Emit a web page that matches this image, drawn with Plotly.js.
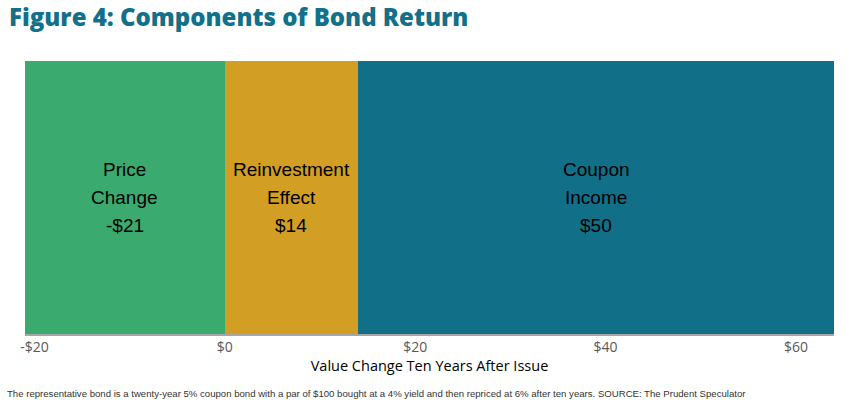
<!DOCTYPE html>
<html>
<head>
<meta charset="utf-8">
<script src="https://cdn.plot.ly/plotly-3.0.1.min.js"></script>
<style>html,body{margin:0;padding:0;background:#fff;}#chart{width:852px;height:417px;}</style>
</head>
<body>
<div id="chart"></div>
<script>
const components = ["Price Change", "Reinvestment Effect", "Coupon Income"];
const labelLines = [["Price", "Change", "-$21"], ["Reinvestment", "Effect", "$14"], ["Coupon", "Income", "$50"]];
const values = [-21, 14, 50];
const colors = ["#3BAA6F", "#D29E23", "#116F88"];
const tickValues = [-20, 0, 20, 40, 60];
const tickLabels = ["-$20", "$0", "$20", "$40", "$60"];

const category = "Bond";
const traces = components.map((name, i) => ({
  type: "bar",
  orientation: "h",
  name: name,
  x: [values[i]],
  y: [category],
  marker: {color: colors[i], line: {width: 0}},
  hoverinfo: "skip"
}));

// label centres derived from stacked data
const annotations = [];
let posBase = 0, negBase = 0;
values.forEach((v, i) => {
  let start, end;
  if (v >= 0) { start = posBase; end = posBase + v; posBase = end; }
  else { start = negBase + v; end = negBase; negBase = start; }
  const mid = (start + end) / 2;
  labelLines[i].forEach((line, j) => {
    annotations.push({
      x: mid, y: category, xref: "x", yref: "y",
      text: line, showarrow: false,
      yshift: (1 - j) * 28,
      font: {family: "Liberation Sans, Arial, sans-serif", size: 19, color: "#000"}
    });
  });
});

annotations.push({
  xref: "paper", yref: "paper", x: 0, y: 1, xanchor: "left", yanchor: "bottom",
  xshift: -18, yshift: 26,
  text: "Figure 4: Components of Bond Return", showarrow: false,
  font: {family: "Open Sans, sans-serif", size: 24, weight: 800, color: "#13708A"}
});
annotations.push({
  xref: "paper", yref: "paper", x: 0, y: 0, xanchor: "left", yanchor: "middle",
  xshift: -20, yshift: -59,
  text: "The representative bond is a twenty-year 5% coupon bond with a par of $100 bought at a 4% yield and then repriced at 6% after ten years. SOURCE: The Prudent Speculator",
  showarrow: false,
  font: {family: "Liberation Sans, Arial, sans-serif", size: 9.6, color: "#333"}
});

const layout = {
  width: 852, height: 417,
  margin: {l: 25, r: 18, t: 61, b: 83},
  barmode: "relative",
  bargap: 0,
  showlegend: false,
  paper_bgcolor: "#fff", plot_bgcolor: "#fff",
  xaxis: {
    range: [-21, 64],
    tickvals: tickValues, ticktext: tickLabels,
    showgrid: false, zeroline: false,
    showline: true, linecolor: "#A6A6A6", linewidth: 1.5,
    ticks: "", tickfont: {family: "Open Sans, sans-serif", size: 14, color: "#595959"},
    title: {text: "Value Change Ten Years After Issue", standoff: 3,
            font: {family: "Open Sans, sans-serif", size: 14.5, color: "#000"}}
  },
  yaxis: {
    range: [-0.5, 0.5], showticklabels: false, showgrid: false, zeroline: false,
    showline: false, ticks: "", fixedrange: true
  },
  annotations: annotations
};

Plotly.newPlot("chart", traces, layout, {displayModeBar: false, staticPlot: true});
</script>
</body>
</html>
